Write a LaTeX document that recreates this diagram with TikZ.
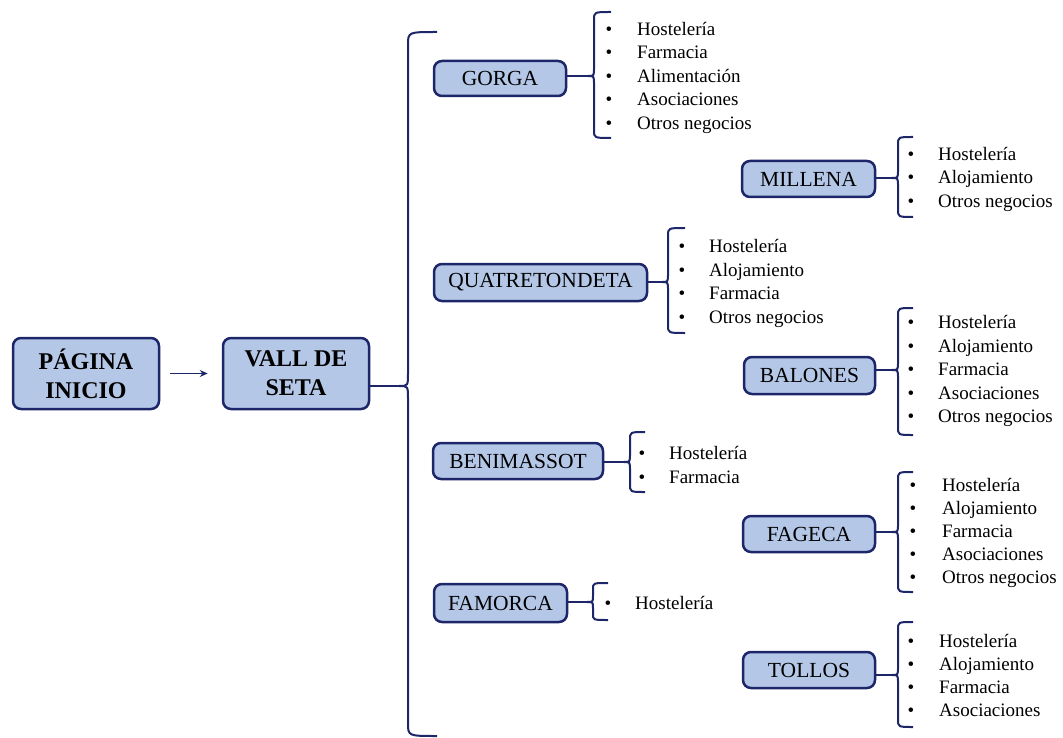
\documentclass[tikz,border=0pt]{standalone}
\usepackage{fontspec}
\setmainfont{Liberation Serif}
\usetikzlibrary{arrows.meta}
\definecolor{navy}{RGB}{28,38,105}
\definecolor{boxblue}{RGB}{180,199,231}
\tikzset{
 box/.style={draw=navy, fill=boxblue, line width=2.5pt, rounded corners=8pt, inner sep=0pt, font=\fontsize{21.5}{26}\selectfont},
 mainbox/.style={box, font=\bfseries\fontsize{24}{29}\selectfont, align=center},
 brc/.style={draw=navy, line width=2pt},
 itm/.style={anchor=base west, inner sep=0pt, font=\fontsize{19}{23}\selectfont},
 bul/.style={anchor=base, inner sep=0pt, font=\fontsize{19}{23}\selectfont},
}
% name, x, top, mid, bot, r, hook, cusp
\newcommand\mkbrace[8]{%
  \coordinate (#1) at ({#2-#8},#4);
  \draw[brc] ({#2+#7},#3) .. controls (#2,#3) .. (#2,{#3+#6}) -- (#2,{#4-#6})
    .. controls (#2,#4) .. (#1) .. controls (#2,#4) .. (#2,{#4+#6})
    -- (#2,{#5-#6}) .. controls (#2,#5) .. ({#2+#7},#5);
}
% name, bullet x, text x, first centre y, spacing, list
\newcommand\mkitems[6]{%
  \foreach \t [count=\i] in {#6} {
    \node[bul] (#1b\i) at (#2, {#4+6.5+(\i-1)*#5}) {•};
    \node[itm] (#1t\i) at (#3, {#4+6.5+(\i-1)*#5}) {\t};
  }
}
\begin{document}
\begin{tikzpicture}[x=1pt,y=-1pt]
\useasboundingbox (0,0) rectangle (1063,738);

% main boxes
\node[mainbox, minimum width=146pt, minimum height=71pt] (pagina) at (86,373.5) {PÁGINA\\INICIO};
\node[mainbox, minimum width=146pt, minimum height=71pt] (vall) at (296,373.5) {VALL DE\\SETA};
\draw[navy, line width=1.5pt, shorten <=10pt, shorten >=14pt, -{Stealth[length=8pt,width=7pt]}] (pagina) -- (vall);

% big brace
\mkbrace{bigtip}{408}{32}{386}{736}{13}{29}{9}
\draw[brc] (vall.east |- bigtip) -- (bigtip);

% second level boxes
\node[box, minimum width=132pt, minimum height=35pt] (gorga) at (500,78.5) {GORGA};
\node[box, minimum width=133pt, minimum height=36pt] (millena) at (808.5,179) {MILLENA};
\node[box, minimum width=213pt, minimum height=37pt] (quatre) at (540.5,282.5) {QUATRETONDETA};
\node[box, minimum width=131pt, minimum height=37pt] (balones) at (809.5,375.5) {BALONES};
\node[box, minimum width=170pt, minimum height=36pt] (beni) at (518,461) {BENIMASSOT};
\node[box, minimum width=132pt, minimum height=36pt] (fageca) at (809,534) {FAGECA};
\node[box, minimum width=133pt, minimum height=38pt] (famorca) at (500.5,603) {FAMORCA};
\node[box, minimum width=132pt, minimum height=36pt] (tollos) at (809,670) {TOLLOS};

% list braces
\mkbrace{gtip}{594}{12}{76}{138}{8}{17}{6}
\draw[brc] (gorga.east |- gtip) -- (gtip);
\mkbrace{mtip}{898}{137}{178}{217}{8}{15}{6}
\draw[brc] (millena.east |- mtip) -- (mtip);
\mkbrace{qtip}{668}{228}{282}{333}{8}{17}{6}
\draw[brc] (quatre.east |- qtip) -- (qtip);
\mkbrace{btip}{898}{308}{370}{435}{8}{15}{6}
\draw[brc] (balones.east |- btip) -- (btip);
\mkbrace{ntip}{630}{432}{462}{492}{8}{15}{6}
\draw[brc] (beni.east |- ntip) -- (ntip);
\mkbrace{ftip}{898}{472}{532}{592}{8}{15}{6}
\draw[brc] (fageca.east |- ftip) -- (ftip);
\mkbrace{atip}{593}{583}{602}{620}{6}{15}{6}
\draw[brc] (famorca.east |- atip) -- (atip);
\mkbrace{ttip}{898}{622}{675}{727}{8}{15}{6}
\draw[brc] (tollos.east |- ttip) -- (ttip);

% lists
\mkitems{g}{609}{637}{29}{23.5}{Hostelería,Farmacia,Alimentación,Asociaciones,Otros negocios}
\mkitems{m}{911}{938}{154}{23.5}{Hostelería,Alojamiento,Otros negocios}
\mkitems{q}{682}{709}{246}{23.7}{Hostelería,Alojamiento,Farmacia,Otros negocios}
\mkitems{b}{911}{938}{322}{23.5}{Hostelería,Alojamiento,Farmacia,Asociaciones,Otros negocios}
\mkitems{n}{642}{669}{453}{23.5}{Hostelería,Farmacia}
\mkitems{f}{913}{942}{485}{23}{Hostelería,Alojamiento,Farmacia,Asociaciones,Otros negocios}
\mkitems{a}{608}{635}{603}{23.5}{Hostelería}
\mkitems{t}{911}{939}{641}{23}{Hostelería,Alojamiento,Farmacia,Asociaciones}
\end{tikzpicture}
\end{document}
